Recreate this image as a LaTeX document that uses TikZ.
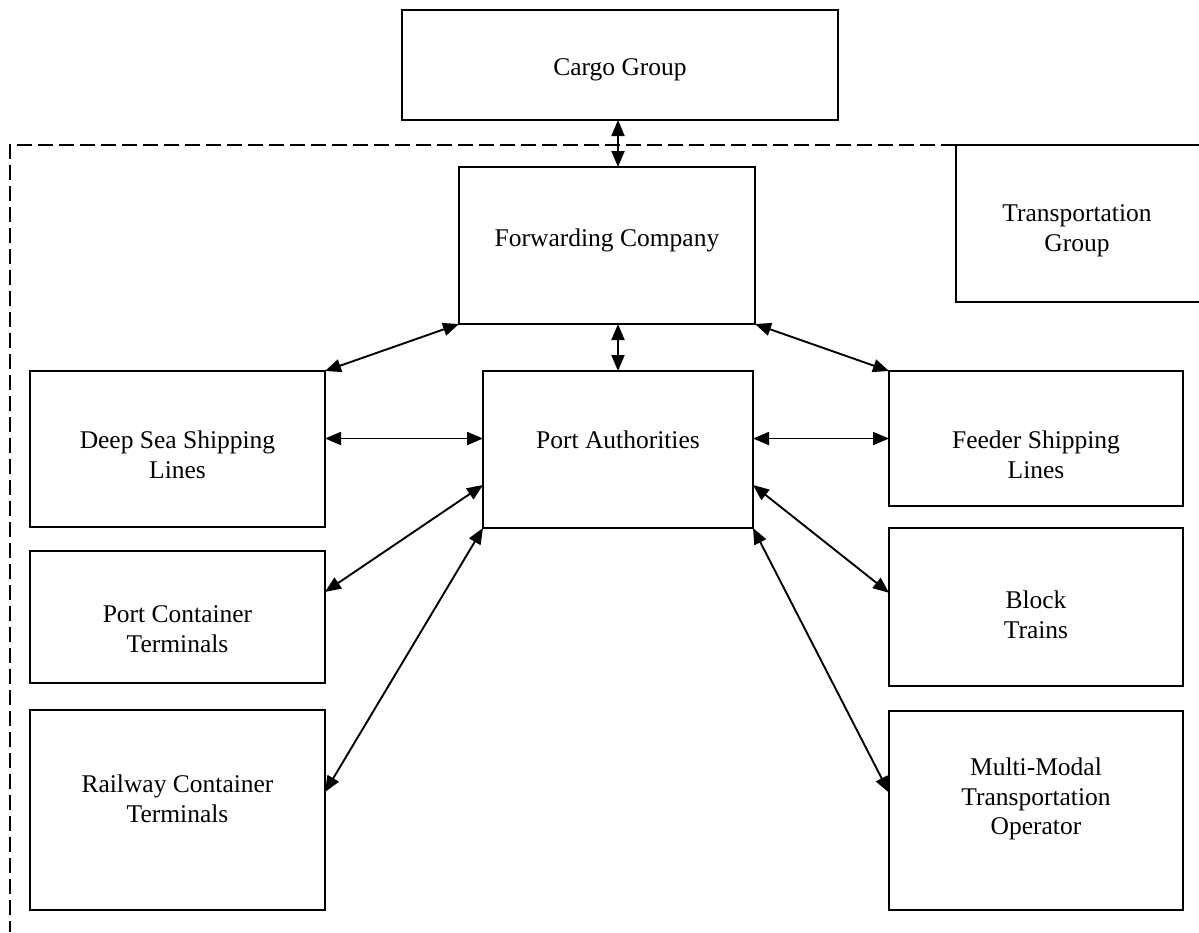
\documentclass[tikz,border=0pt]{standalone}
\usepackage{fontspec}
\setmainfont{Liberation Serif}
\usetikzlibrary{arrows.meta,calc}
\begin{document}
\begin{tikzpicture}[x=1pt,y=-1pt,
  box/.style={draw, line width=2pt, inner sep=0pt, outer sep=0pt},
  lbl/.style={align=center, inner sep=0pt, font=\fontsize{25.5}{29.5}\selectfont},
  link/.style={line width=1.9pt, {Triangle[length=16pt,width=13pt]}-{Triangle[length=16pt,width=13pt]}},
  grp/.style={line width=2pt, dash pattern=on 15pt off 6pt}]
\useasboundingbox (0,0) rectangle (1199,932);
\fill[white] (0,0) rectangle (1199,932);

% boxes
\node[box, minimum width=436pt, minimum height=110pt] (cg) at (620,65) {};
\node[box, minimum width=296pt, minimum height=157pt] (fc) at (607,245.5) {};
\node[box, minimum width=270pt, minimum height=157pt] (pa) at (618,449.5) {};
\node[box, minimum width=295pt, minimum height=156pt] (ds) at (177.5,449) {};
\node[box, minimum width=295pt, minimum height=132pt] (pct) at (177.5,617) {};
\node[box, minimum width=295pt, minimum height=200pt] (rw) at (177.5,810) {};
\node[box, minimum width=294pt, minimum height=135pt] (fd) at (1036,438.5) {};
\node[box, minimum width=294pt, minimum height=158pt] (bt) at (1036,607) {};
\node[box, minimum width=294pt, minimum height=199pt] (mm) at (1036,810.5) {};

% texts
\node[lbl] (cgt) at (620,70) {Cargo Group};
\node[lbl] (fct) at (607,240) {Forwarding Company};
\node[lbl] (pat) at (618,440) {Port Authorities};
\node[lbl] (dst) at (177.5,455) {Deep Sea Shipping\\Lines};
\node[lbl] (pctt) at (177.5,629) {Port Container\\Terminals};
\node[lbl] (rwt) at (177.5,799) {Railway Container\\Terminals};
\node[lbl] (fdt) at (1036,455) {Feeder Shipping\\Lines};
\node[lbl] (btt) at (1036,615) {Block\\Trains};
\node[lbl] (mmt) at (1036,799) {Multi-Modal\\Transportation\\Operator};

% transportation group (open to the right)
\coordinate (tgtl) at (956,145);
\coordinate (tgbl) at (956,302);
\coordinate (tgtr) at (1199,145);
\coordinate (tgbr) at (1199,302);
\draw[line width=2pt] (tgtr) -- (tgtl) -- (tgbl) -- (tgbr);
\node[lbl] (tgt) at (1077,231) {Transportation\\Group};
\coordinate (gbl) at (10,145);
\coordinate (gend) at (10,932);
\draw[grp] (tgtl) -- (gbl) -- (gend);

% connectors
\draw[link] (cg.south -| pa.north) -- (fc.north -| pa.north);
\draw[link] (fc.south -| pa.north) -- (pa.north);
\draw[link] (fc.south west) -- (ds.north east);
\draw[link] (fc.south east) -- (fd.north west);
\coordinate (pal1) at ($(pa.north west)!0.43!(pa.south west)$);
\coordinate (par1) at ($(pa.north east)!0.43!(pa.south east)$);
\draw[link] (pal1 -| ds.east) -- (pal1);
\draw[link] (par1) -- (par1 -| fd.west);
\coordinate (pal2) at ($(pa.north west)!0.726!(pa.south west)$);
\coordinate (par2) at ($(pa.north east)!0.726!(pa.south east)$);
\coordinate (pcte) at ($(pct.north east)!0.31!(pct.south east)$);
\coordinate (btw) at ($(bt.north west)!0.41!(bt.south west)$);
\draw[link] (pal2) -- (pcte);
\draw[link] (par2) -- (btw);
\coordinate (rwe) at ($(rw.north east)!0.41!(rw.south east)$);
\coordinate (mmw) at ($(mm.north west)!0.41!(mm.south west)$);
\draw[link] (pa.south west) -- (rwe);
\draw[link] (pa.south east) -- (mmw);
\end{tikzpicture}
\end{document}
